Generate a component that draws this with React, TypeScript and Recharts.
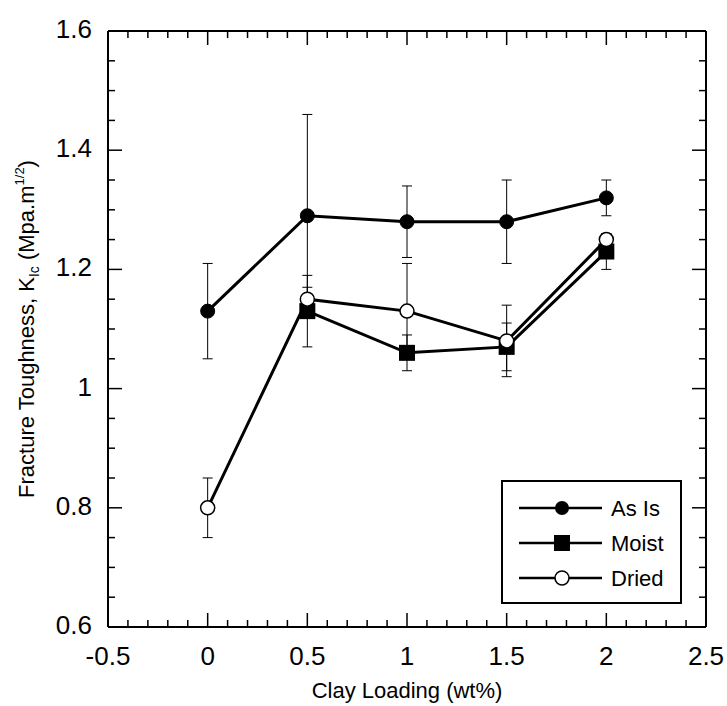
import React from 'react'
import { ComposedChart, Line, XAxis, YAxis, ErrorBar, Legend } from 'recharts'

const FONT = '"Liberation Sans", Arial, Helvetica, sans-serif'

const clayLoading = [0, 0.5, 1, 1.5, 2]
const asIs = [1.13, 1.29, 1.28, 1.28, 1.32]
const asIsErr = [0.08, 0.17, 0.06, 0.07, 0.03]
const moist = [null, 1.13, 1.06, 1.07, 1.23]
const moistErr = [null, 0.06, 0.03, 0.04, 0.03]
const dried = [0.8, 1.15, 1.13, 1.08, 1.25]
const driedErr = [0.05, 0.02, 0.08, 0.06, 0.01]

const xMajorTicks = [-0.5, 0, 0.5, 1, 1.5, 2, 2.5]
const yMajorTicks = [0.6, 0.8, 1, 1.2, 1.4, 1.6]

const seriesNames = ['As Is', 'Moist', 'Dried']

// minor ticks between majors (n intervals per major step)
function subdivide(majors: number[], n: number) {
  const out: number[] = []
  for (let i = 0; i < majors.length - 1; i++) {
    const step = (majors[i + 1] - majors[i]) / n
    for (let k = 0; k < n; k++) out.push(Math.round((majors[i] + k * step) * 1000) / 1000)
  }
  out.push(majors[majors.length - 1])
  return out
}
const xTicks = subdivide(xMajorTicks, 5)
const yTicks = subdivide(yMajorTicks, 4)

const toSeries = (ys: (number | null)[], errs: (number | null)[]) =>
  clayLoading
    .map((x, i) => ({ x, y: ys[i], err: errs[i] }))
    .filter(d => d.y != null)

const asIsData = toSeries(asIs, asIsErr)
const moistData = toSeries(moist, moistErr)
const driedData = toSeries(dried, driedErr)

const isMajor = (v: number, majors: number[]) => majors.some(m => Math.abs(m - v) < 1e-6)
const MAJOR = 14
const MINOR = 7
const axisStyle = { stroke: '#000', strokeWidth: 2 }

const BottomTick = (props: any) => {
  const { x, y, payload } = props
  const major = isMajor(payload.value, xMajorTicks)
  return (
    <g>
      <line x1={x} x2={x} y1={y} y2={y - (major ? MAJOR : MINOR)} stroke="#000" strokeWidth={1.5} />
      {major && (
        <text x={x} y={y + 38} textAnchor="middle" fontSize={26} fill="#000" fontFamily={FONT}>
          {String(payload.value)}
        </text>
      )}
    </g>
  )
}

const TopTick = (props: any) => {
  const { x, y, payload } = props
  const major = isMajor(payload.value, xMajorTicks)
  return <line x1={x} x2={x} y1={y} y2={y + (major ? MAJOR : MINOR)} stroke="#000" strokeWidth={1.5} />
}

const LeftTick = (props: any) => {
  const { x, y, payload } = props
  const major = isMajor(payload.value, yMajorTicks)
  return (
    <g>
      <line x1={x} x2={x + (major ? MAJOR : MINOR)} y1={y} y2={y} stroke="#000" strokeWidth={1.5} />
      {major && (
        <text x={x - 16} y={y + 7} textAnchor="end" fontSize={26} fill="#000" fontFamily={FONT}>
          {String(payload.value)}
        </text>
      )}
    </g>
  )
}

const RightTick = (props: any) => {
  const { x, y, payload } = props
  const major = isMajor(payload.value, yMajorTicks)
  return <line x1={x} x2={x - (major ? MAJOR : MINOR)} y1={y} y2={y} stroke="#000" strokeWidth={1.5} />
}

const XTitle = () => (
  <text x={407} y={698} textAnchor="middle" fontSize={22} fill="#000" fontFamily={FONT}>
    Clay Loading (wt%)
  </text>
)

const YTitle = () => (
  <text
    x={34}
    y={329}
    transform="rotate(-90, 34, 329)"
    textAnchor="middle"
    fontSize={22}
    fill="#000"
    fontFamily={FONT}
  >
    Fracture Toughness, K
    <tspan fontSize={14} dy={5}>Ic</tspan>
    <tspan dy={-5}> (Mpa.m</tspan>
    <tspan fontSize={13} dy={-10}>1/2</tspan>
    <tspan dy={10}>)</tspan>
  </text>
)

const SquareDot = (props: any) => {
  const { cx, cy, index } = props
  if (cx == null || cy == null) return <g key={index} />
  return <rect key={index} x={cx - 8} y={cy - 8} width={16} height={16} fill="#000" />
}

const renderLegend = () => {
  const rows = [26, 61, 96]
  return (
    <div style={{ width: 181, height: 124, border: '2px solid #000', boxSizing: 'border-box', background: '#fff' }}>
      <svg width={177} height={120} style={{ display: 'block' }}>
        {seriesNames.map((name, i) => (
          <g key={name}>
            <line x1={16} x2={99} y1={rows[i]} y2={rows[i]} stroke="#000" strokeWidth={2.5} />
            {i === 0 && <circle cx={59} cy={rows[i]} r={7} fill="#000" />}
            {i === 1 && <rect x={51} y={rows[i] - 8} width={16} height={16} fill="#000" />}
            {i === 2 && <circle cx={59} cy={rows[i]} r={7} fill="#fff" stroke="#000" strokeWidth={1.5} />}
            <text x={108} y={rows[i] + 8} fontSize={22} fill="#000" fontFamily={FONT}>{name}</text>
          </g>
        ))}
      </svg>
    </div>
  )
}

export default function App() {
  return (
    <div style={{ position: 'absolute', left: 0, top: 0, width: 727, height: 706, background: '#fff', fontFamily: FONT }}>
      <ComposedChart width={727} height={706} margin={{ top: 31, right: 21, bottom: 0, left: 0 }}>
        <XAxis
          xAxisId="main"
          type="number"
          dataKey="x"
          domain={[-0.5, 2.5]}
          ticks={xTicks}
          interval={0}
          tickSize={0}
          tickMargin={0}
          height={79}
          axisLine={axisStyle}
          tickLine={false}
          tick={BottomTick}
          allowDataOverflow
          label={XTitle}
        />
        <XAxis
          xAxisId="top"
          orientation="top"
          mirror
          type="number"
          dataKey="x"
          domain={[-0.5, 2.5]}
          ticks={xTicks}
          interval={0}
          tickSize={0}
          tickMargin={0}
          axisLine={axisStyle}
          tickLine={false}
          tick={TopTick}
          allowDataOverflow
        />
        <YAxis
          yAxisId="main"
          type="number"
          domain={[0.6, 1.6]}
          ticks={yTicks}
          interval={0}
          tickSize={0}
          tickMargin={0}
          width={108}
          axisLine={axisStyle}
          tickLine={false}
          tick={LeftTick}
          allowDataOverflow
          label={YTitle}
        />
        <YAxis
          yAxisId="right"
          orientation="right"
          mirror
          type="number"
          domain={[0.6, 1.6]}
          ticks={yTicks}
          interval={0}
          tickSize={0}
          tickMargin={0}
          axisLine={axisStyle}
          tickLine={false}
          tick={RightTick}
          allowDataOverflow
        />
        <Legend
          layout="vertical"
          align="center"
          verticalAlign="middle"
          content={renderLegend}
          wrapperStyle={{ position: 'absolute', left: 501, top: 480, width: 181, height: 124 }}
        />
        <Line
          xAxisId="main"
          yAxisId="main"
          data={asIsData}
          dataKey="y"
          name={seriesNames[0]}
          stroke="#000"
          strokeWidth={3}
          dot={{ r: 7, fill: '#000', stroke: '#000', strokeWidth: 1 }}
          activeDot={false}
          isAnimationActive={false}
        >
          <ErrorBar dataKey="err" direction="y" width={5} stroke="#000" strokeWidth={1} isAnimationActive={false} />
        </Line>
        <Line
          xAxisId="main"
          yAxisId="main"
          data={moistData}
          dataKey="y"
          name={seriesNames[1]}
          stroke="#000"
          strokeWidth={3}
          dot={SquareDot}
          activeDot={false}
          isAnimationActive={false}
        >
          <ErrorBar dataKey="err" direction="y" width={5} stroke="#000" strokeWidth={1} isAnimationActive={false} />
        </Line>
        <Line
          xAxisId="main"
          yAxisId="main"
          data={driedData}
          dataKey="y"
          name={seriesNames[2]}
          stroke="#000"
          strokeWidth={3}
          dot={{ r: 7, fill: '#fff', stroke: '#000', strokeWidth: 1.5 }}
          activeDot={false}
          isAnimationActive={false}
        >
          <ErrorBar dataKey="err" direction="y" width={5} stroke="#000" strokeWidth={1} isAnimationActive={false} />
        </Line>
      </ComposedChart>
    </div>
  )
}
